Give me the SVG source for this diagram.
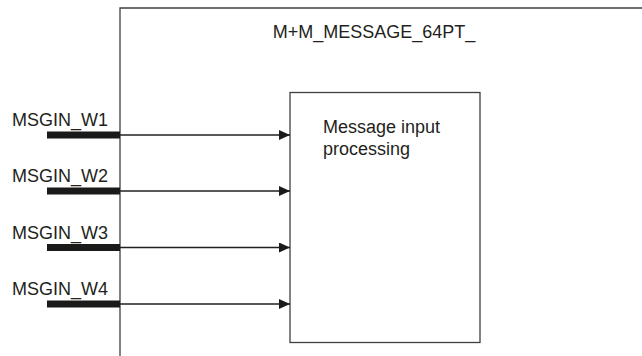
<svg xmlns="http://www.w3.org/2000/svg" width="642" height="356" viewBox="0 0 642 356">
<style>
text{font-family:"Liberation Sans",Arial,sans-serif;font-size:18px;fill:#231f20}
.frame{fill:none;stroke:#404040;stroke-width:1.3}
.bar{fill:#1a1a1a}
.conn{stroke:#231f20;stroke-width:1.3;fill:none;marker-end:url(#ah)}
</style>
<defs>
<marker id="ah" markerUnits="userSpaceOnUse" markerWidth="11" markerHeight="10" refX="11" refY="5" orient="auto">
<path d="M0,0 L11,5 L0,10 Z" fill="#1a1a1a"/>
</marker>
</defs>
<g id="frame">
<path class="frame" d="M120,356 V8 H642"/>
<text x="374" y="38" text-anchor="middle">M+M_MESSAGE_64PT_</text>
</g>
<g id="processing">
<rect class="frame" x="290" y="92.5" width="190" height="250"/>
<text x="323" y="133">Message input</text>
<text x="323" y="155">processing</text>
</g>
<g id="w1"><text x="12" y="126">MSGIN_W1</text><rect class="bar" x="47" y="131.5" width="73" height="7"/></g>
<g id="w2"><text x="12" y="182">MSGIN_W2</text><rect class="bar" x="47" y="187.5" width="73" height="7"/></g>
<g id="w3"><text x="12" y="239">MSGIN_W3</text><rect class="bar" x="47" y="244" width="73" height="7"/></g>
<g id="w4"><text x="12" y="295">MSGIN_W4</text><rect class="bar" x="47" y="300.5" width="73" height="7"/></g>
<g id="connectors">
<line class="conn" x1="120" y1="135" x2="290" y2="135"/>
<line class="conn" x1="120" y1="191" x2="290" y2="191"/>
<line class="conn" x1="120" y1="247.5" x2="290" y2="247.5"/>
<line class="conn" x1="120" y1="304" x2="290" y2="304"/>
</g>
</svg>
